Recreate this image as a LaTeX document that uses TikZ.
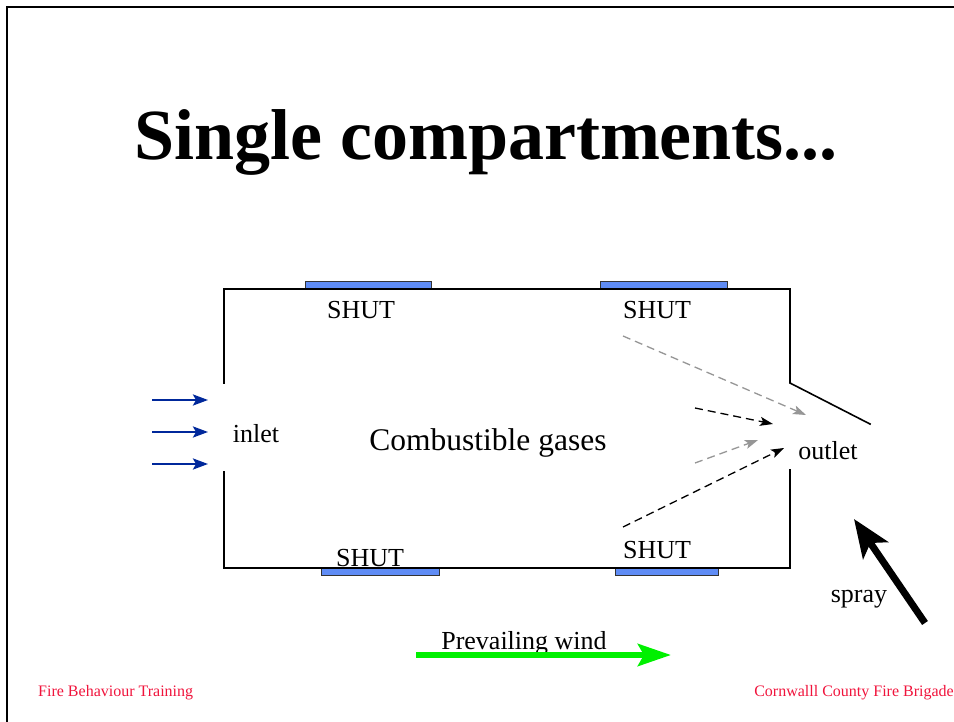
\documentclass[tikz,border=0pt]{standalone}
\usepackage{fontspec}
\setmainfont{Liberation Serif}
\usetikzlibrary{arrows.meta}
\definecolor{shutblue}{RGB}{95,140,245}
\definecolor{inletblue}{RGB}{0,40,155}
\definecolor{footred}{RGB}{240,20,60}
\definecolor{flowgray}{RGB}{150,150,150}
\definecolor{windgreen}{RGB}{0,240,0}
\begin{document}
\begin{tikzpicture}[x=1pt,y=-1pt,
  lbl/.style={inner sep=0pt,font=\fontsize{26}{30}\selectfont},
  wall/.style={line width=1.6pt,line cap=rect},
  shutter/.style={fill=shutblue,draw=black!80,line width=0.8pt},
  inarrow/.style={draw=inletblue,line width=2.3pt,-{Stealth[length=15pt,width=11pt,inset=3pt]}},
  flow/.style={line width=1.3pt,dash pattern=on 8pt off 5pt,-{Stealth[length=13pt,width=9pt,inset=3pt]}},
  foot/.style={inner sep=0pt,text=footred,font=\fontsize{16}{19}\selectfont}]
\useasboundingbox (0,0) rectangle (954,722);
\draw[line width=1.4pt] (7,722) -- (7,7) -- (954,7);
% title
\node[inner sep=0pt,anchor=base,font=\fontsize{72}{80}\selectfont\bfseries] (title) at (486,160) {Single compartments...};
% shutters
\draw[shutter] (305,281) rectangle (431,289);
\draw[shutter] (600,281) rectangle (727,289);
\draw[shutter] (321,568) rectangle (439,575);
\draw[shutter] (615,568) rectangle (718,575);
% walls
\draw[wall] (224,383) -- (224,289) -- (790,289) -- (790,383) -- (870,424);
\draw[wall] (224,472) -- (224,568) -- (790,568) -- (790,470);
% labels
\node[lbl,anchor=base] (s1) at (361,319) {SHUT};
\node[lbl,anchor=base] (s2) at (657,319) {SHUT};
\node[lbl,anchor=base] (s3) at (370,566) {SHUT};
\node[lbl,anchor=base] (s4) at (657,558) {SHUT};
\node[lbl,anchor=base] (inlet) at (256,442) {inlet};
\node[inner sep=0pt,anchor=base,font=\fontsize{31.5}{36}\selectfont] (gases) at (488,450) {Combustible gases};
\node[lbl,anchor=base] (outlet) at (828,459) {outlet};
\node[lbl,anchor=base] (spray) at (859,602) {spray};
\node[lbl,anchor=base] (wind) at (524,649) {Prevailing wind};
\node[foot,anchor=base west] (f1) at (38,696) {Fire Behaviour Training};
\node[foot,anchor=base east] (f2) at (954,696) {Cornwalll County Fire Brigade};
% inlet arrows
\foreach \y/\n in {400/a,432/b,464/c}{
  \coordinate (i\n0) at (152,\y);
  \coordinate (i\n1) at (208,\y);
  \draw[inarrow] (i\n0) -- (i\n1);
}
% flow arrows
\coordinate (g1a) at (623,336); \coordinate (g1b) at (806,415);
\coordinate (k1a) at (695,408); \coordinate (k1b) at (773,424);
\coordinate (g2a) at (695,463); \coordinate (g2b) at (758,440);
\coordinate (k2a) at (623,527); \coordinate (k2b) at (784,448);
\draw[flow,draw=flowgray] (g1a) -- (g1b);
\draw[flow,draw=black] (k1a) -- (k1b);
\draw[flow,draw=flowgray] (g2a) -- (g2b);
\draw[flow,draw=black] (k2a) -- (k2b);
% spray arrow
\coordinate (sp0) at (925,623);
\coordinate (sp1) at (854,519);
\draw[line width=7pt,-{Stealth[length=38pt,width=30pt,inset=9pt]}] (sp0) -- (sp1);
% wind arrow
\coordinate (w0) at (416,655);
\coordinate (w1) at (671,655);
\draw[windgreen,line width=6pt,-{Stealth[length=33pt,width=22pt,inset=6pt]}] (w0) -- (w1);
\end{tikzpicture}
\end{document}
